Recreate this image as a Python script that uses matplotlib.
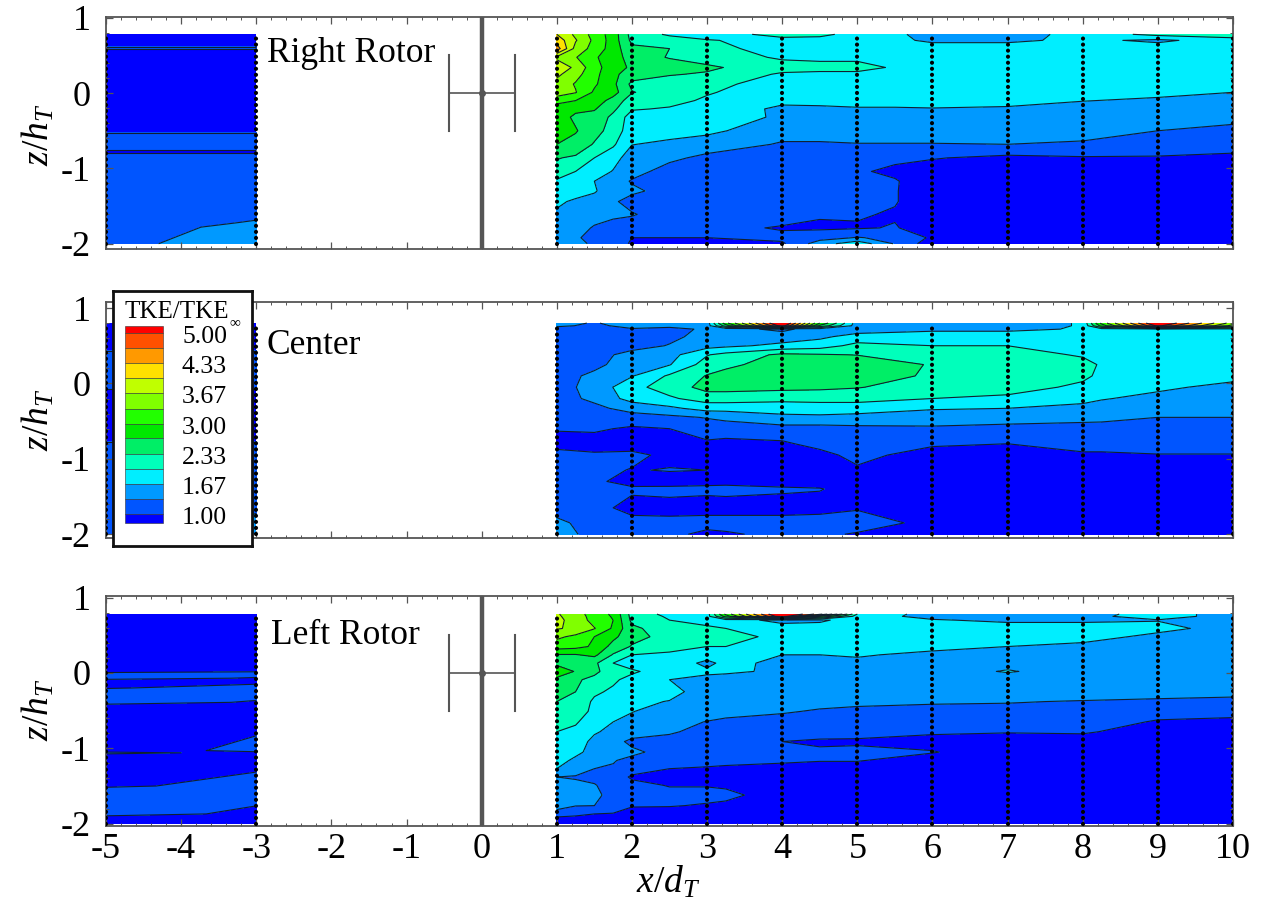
import numpy as np
import matplotlib
matplotlib.use("Agg")
import matplotlib.pyplot as plt
from matplotlib.ticker import MultipleLocator
from matplotlib.patches import Rectangle

plt.rcParams['font.family'] = ['Liberation Serif', 'DejaVu Sans']
plt.rcParams['mathtext.fontset'] = 'custom'
plt.rcParams['mathtext.rm'] = 'Liberation Serif'
plt.rcParams['mathtext.it'] = 'Liberation Serif:italic'
plt.rcParams['mathtext.bf'] = 'Liberation Serif:bold'
plt.rcParams['axes.unicode_minus'] = False

W, H = 1263, 905

levels = [1.00, 1.33, 1.67, 2.00, 2.33, 2.67, 3.00, 3.33, 3.67, 4.00, 4.33, 4.67, 5.00]
fill_levels = [0.0] + levels + [100.0]
band_colors = ['#0000ff', '#0055ff', '#0099ff', '#00eeff', '#00ffbb', '#00ee66', '#00e800',
               '#22ff00', '#80ff00', '#c0ff00', '#ffe000', '#ff9900', '#ff5000', '#ff0000']
legend_labels = ['5.00', '4.33', '3.67', '3.00', '2.33', '1.67', '1.00']
legend_label_levels = [5.00, 4.33, 3.67, 3.00, 2.33, 1.67, 1.00]

# ---- Right rotor, downstream
right_x = [1, 1.25, 1.5, 1.75, 2, 2.5, 3, 4, 4.5, 5, 5.5, 6, 7, 8, 9, 10]
right_z = [.78, .70, .59, .475, .34, .25, .12, .01, -.10, -.21, -.32, -.50, -.68, -.86, -1.04, -1.17, -1.30, -1.44, -1.61, -1.79, -1.92, -2.0]
right_v = [
 [4.0, 3.6, 3.2, 2.85, 2.2, 1.95, 1.85, 2.1, 2.1, 1.85, 1.75, 1.5, 1.5, 1.8, 2.1, 2.2],
 [4.2, 3.7, 3.25, 2.85, 2.25, 2.15, 2.02, 1.9, 1.85, 1.85, 1.75, 1.6, 1.6, 1.75, 1.6, 1.85],
 [4.5, 3.55, 3.2, 2.85, 2.4, 2.33, 2.12, 1.85, 1.85, 1.85, 1.85, 1.85, 1.85, 1.85, 1.85, 1.85],
 [3.6, 3.35, 3.05, 2.8, 2.55, 2.3, 2.2, 1.95, 1.9, 1.9, 1.85, 1.85, 1.85, 1.85, 1.85, 1.85],
 [3.9, 3.6, 3.1, 2.85, 2.6, 2.55, 2.38, 2.15, 2.15, 2.15, 1.95, 1.85, 1.85, 1.85, 1.85, 1.85],
 [3.75, 3.45, 3.1, 2.75, 2.5, 2.35, 2.3, 1.95, 1.9, 1.9, 1.85, 1.85, 1.85, 1.85, 1.85, 1.85],
 [3.55, 3.3, 3.05, 2.75, 2.25, 2.2, 2.1, 1.85, 1.85, 1.85, 1.85, 1.85, 1.85, 1.85, 1.85, 1.85],
 [3.45, 3.35, 2.95, 2.8, 2.35, 2.15, 2.03, 1.8, 1.8, 1.8, 1.8, 1.8, 1.8, 1.8, 1.75, 1.67],
 [3.2, 3.0, 2.85, 2.55, 2.15, 2.1, 1.95, 1.75, 1.75, 1.75, 1.75, 1.75, 1.72, 1.68, 1.62, 1.58],
 [2.7, 2.75, 2.7, 2.4, 2.03, 1.97, 1.9, 1.6, 1.62, 1.65, 1.65, 1.66, 1.65, 1.55, 1.5, 1.5],
 [2.85, 2.6, 2.55, 2.25, 1.85, 1.9, 1.85, 1.62, 1.5, 1.5, 1.5, 1.5, 1.5, 1.5, 1.48, 1.42],
 [2.95, 2.7, 2.45, 2.2, 1.8, 1.8, 1.75, 1.45, 1.45, 1.45, 1.45, 1.45, 1.45, 1.42, 1.33, 1.25],
 [2.67, 2.55, 2.3, 2.05, 1.68, 1.6, 1.5, 1.3, 1.3, 1.32, 1.32, 1.32, 1.33, 1.3, 1.2, 1.15],
 [2.35, 2.28, 2.0, 1.8, 1.5, 1.4, 1.25, 1.15, 1.12, 1.1, 1.05, 1.02, 0.92, 0.97, 0.97, 0.92],
 [2.2, 2.0, 1.85, 1.65, 1.45, 1.2, 1.15, 1.1, 1.05, 1.03, 0.95, 0.85, 0.85, 0.85, 0.85, 0.85],
 [1.95, 1.85, 1.67, 1.5, 1.3, 1.2, 1.15, 1.08, 1.1, 1.08, 1.02, 0.85, 0.8, 0.8, 0.8, 0.8],
 [1.95, 1.85, 1.7, 1.5, 1.4, 1.2, 1.15, 1.05, 1.05, 1.05, 1.02, 0.8, 0.8, 0.8, 0.8, 0.8],
 [1.75, 1.6, 1.55, 1.38, 1.2, 1.15, 1.15, 1.1, 1.1, 1.05, 1.02, 0.8, 0.8, 0.8, 0.8, 0.8],
 [1.6, 1.5, 1.45, 1.4, 1.36, 1.15, 1.15, 1.15, 1.03, 1.03, 0.97, 0.8, 0.8, 0.8, 0.8, 0.8],
 [1.45, 1.45, 1.3, 1.2, 1.15, 1.15, 1.1, 0.97, 0.95, 0.97, 1.02, 0.85, 0.8, 0.8, 0.8, 0.8],
 [1.4, 1.35, 1.28, 1.2, 1.0, 1.0, 1.0, 1.08, 1.2, 1.35, 1.25, 0.95, 0.8, 0.8, 0.8, 0.8],
 [1.4, 1.38, 1.3, 1.2, 0.95, 0.9, 0.9, 0.95, 1.5, 1.9, 1.3, 0.8, 0.8, 0.8, 0.8, 0.8],
]
# ---- Right rotor, upstream
right_up_x = [-5, -4.3, -3]
right_up_z = [.78, .63, .60, .57, -.50, -.55, -.73, -.78, -.83, -1.6, -1.72, -1.78, -2.0]
right_up_v = [
 [0.8, 0.8, 0.8], [0.9, 0.9, 0.9], [1.1, 1.1, 1.1], [0.9, 0.9, 0.9], [0.9, 0.9, 0.9],
 [1.1, 1.1, 1.1], [1.1, 1.1, 1.1], [0.9, 0.9, 0.9], [1.15, 1.15, 1.15], [1.2, 1.2, 1.25],
 [1.2, 1.2, 1.36], [1.2, 1.2, 1.5], [1.1, 1.33, 1.5],
]

# ---- Center, downstream
center_x = [1, 1.5, 2, 2.5, 3, 3.25, 4, 4.5, 5, 6, 7, 8, 8.25, 9, 10]
center_z = [.80, .765, .72, .62, .50, .38, .25, .10, -.05, -.20, -.33, -.45, -.60, -.80, -.95, -1.15, -1.30, -1.40, -1.65, -1.85, -2.0]
center_v = [
 [1.45, 1.3, 1.5, 1.5, 1.5, 2.9, 5.6, 3.0, 1.5, 1.5, 1.5, 1.7, 3.1, 5.5, 3.5],
 [1.4, 1.25, 1.45, 1.45, 1.5, 2.5, 5.2, 2.6, 1.5, 1.5, 1.5, 1.7, 2.8, 5.1, 3.2],
 [1.15, 1.15, 1.3, 1.2, 1.4, 1.45, 1.25, 1.5, 1.5, 1.6, 1.6, 1.7, 1.85, 1.85, 1.9],
 [1.1, 1.15, 1.2, 1.25, 1.45, 1.45, 1.5, 1.6, 1.8, 1.85, 1.85, 1.85, 1.85, 1.85, 1.85],
 [1.1, 1.1, 1.2, 1.35, 1.55, 1.6, 1.75, 1.85, 2.1, 2.0, 2.0, 1.85, 1.85, 1.85, 1.85],
 [1.1, 1.2, 1.45, 1.55, 1.98, 2.1, 2.4, 2.36, 2.32, 2.2, 2.2, 1.95, 1.9, 1.85, 1.85],
 [1.15, 1.25, 1.5, 1.65, 2.15, 2.25, 2.5, 2.55, 2.55, 2.3, 2.2, 2.15, 1.95, 1.85, 1.85],
 [1.2, 1.4, 1.65, 2.05, 2.35, 2.45, 2.6, 2.6, 2.6, 2.25, 2.2, 2.05, 1.95, 1.85, 1.8],
 [1.2, 1.45, 1.9, 2.15, 2.45, 2.45, 2.42, 2.4, 2.35, 2.15, 2.1, 1.95, 1.9, 1.75, 1.55],
 [1.2, 1.4, 1.8, 1.95, 2.15, 2.15, 2.1, 2.1, 2.1, 2.0, 1.95, 1.8, 1.7, 1.55, 1.5],
 [1.2, 1.25, 1.45, 1.6, 1.8, 1.8, 1.8, 1.85, 1.85, 1.7, 1.67, 1.55, 1.5, 1.45, 1.42],
 [1.15, 1.15, 1.2, 1.25, 1.35, 1.4, 1.6, 1.6, 1.55, 1.5, 1.45, 1.42, 1.42, 1.33, 1.33],
 [1.02, 1.05, 0.95, 1.0, 1.15, 1.18, 1.2, 1.2, 1.25, 1.28, 1.25, 1.22, 1.2, 1.2, 1.2],
 [0.9, 0.85, 0.8, 0.9, 0.95, 0.9, 0.95, 1.1, 1.15, 1.05, 1.0, 1.05, 1.05, 1.1, 1.1],
 [1.1, 1.05, 1.1, 0.9, 0.9, 0.85, 0.85, 0.9, 1.1, 0.85, 0.85, 0.98, 0.98, 0.99, 0.99],
 [1.2, 1.1, 0.98, 1.02, 1.0, 1.0, 0.95, 1.0, 0.95, 0.85, 0.8, 0.8, 0.8, 0.8, 0.8],
 [1.25, 1.05, 0.9, 0.85, 0.9, 0.9, 0.85, 0.85, 0.85, 0.8, 0.8, 0.8, 0.8, 0.8, 0.8],
 [1.2, 1.1, 1.05, 1.08, 1.08, 1.1, 1.05, 1.02, 0.85, 0.8, 0.8, 0.8, 0.8, 0.8, 0.8],
 [1.2, 1.1, 0.9, 0.9, 0.85, 0.85, 0.85, 0.85, 0.95, 0.8, 0.8, 0.8, 0.8, 0.8, 0.8],
 [1.4, 1.2, 1.1, 1.08, 1.15, 1.15, 1.15, 1.2, 1.25, 0.85, 0.8, 0.8, 0.8, 0.8, 0.8],
 [1.5, 1.2, 1.1, 1.1, 0.9, 0.95, 1.1, 1.1, 0.95, 0.8, 0.8, 0.8, 0.8, 0.8, 0.8],
]
# ---- Center, upstream
center_up_x = [-5, -3]
center_up_z = [.80, .45, .42, -.05, -.10, -.75, -.80, -2.0]
center_up_v = [[0.8, 0.8], [0.9, 0.9], [1.1, 1.1], [1.1, 1.1], [0.9, 0.9], [0.9, 0.9], [1.1, 1.1], [1.2, 1.4]]

# ---- Left rotor, downstream
left_x = [1, 1.25, 1.5, 1.75, 2, 2.5, 3, 3.25, 4, 4.5, 5, 6, 7, 8, 9, 10]
left_z = [.78, .75, .70, .59, .48, .35, .24, .13, .02, -.09, -.25, -.38, -.51, -.65, -.78, -.91, -1.05, -1.16, -1.27, -1.38, -1.49, -1.62, -1.76, -1.87, -1.91, -2.0]
left_v = [
 [3.7, 3.5, 3.15, 2.95, 2.2, 1.9, 1.85, 3.1, 5.6, 4.5, 2.0, 1.5, 1.5, 1.5, 1.85, 1.5],
 [3.72, 3.52, 3.18, 2.97, 2.22, 1.95, 1.87, 2.8, 5.3, 3.0, 1.85, 1.55, 1.55, 1.55, 1.85, 1.5],
 [3.75, 3.55, 3.2, 3.0, 2.25, 2.0, 1.9, 1.85, 1.55, 1.6, 1.85, 1.7, 1.6, 1.6, 1.65, 1.5],
 [3.7, 3.6, 3.35, 2.95, 2.4, 2.15, 2.05, 2.0, 1.85, 1.85, 1.85, 1.85, 1.85, 1.85, 1.8, 1.5],
 [3.4, 3.25, 3.0, 2.75, 2.45, 2.2, 2.1, 2.2, 1.85, 1.85, 1.85, 1.85, 1.85, 1.85, 1.55, 1.5],
 [3.15, 3.1, 2.95, 2.55, 2.3, 2.1, 2.0, 2.0, 1.8, 1.8, 1.8, 1.75, 1.67, 1.55, 1.5, 1.5],
 [2.65, 2.65, 2.75, 2.3, 2.0, 1.95, 1.8, 1.85, 1.67, 1.67, 1.7, 1.6, 1.6, 1.5, 1.5, 1.5],
 [2.6, 2.45, 2.4, 2.0, 1.85, 1.85, 1.6, 1.75, 1.6, 1.6, 1.6, 1.55, 1.55, 1.5, 1.5, 1.5],
 [2.85, 2.65, 2.45, 2.05, 2.05, 1.82, 1.72, 1.72, 1.62, 1.5, 1.5, 1.5, 1.7, 1.5, 1.5, 1.5],
 [2.6, 2.4, 2.2, 2.05, 1.9, 1.67, 1.6, 1.55, 1.5, 1.5, 1.5, 1.5, 1.5, 1.5, 1.5, 1.45],
 [2.45, 2.33, 2.05, 1.95, 1.8, 1.75, 1.55, 1.5, 1.5, 1.5, 1.5, 1.5, 1.5, 1.5, 1.45, 1.4],
 [2.33, 2.2, 1.95, 1.9, 1.72, 1.66, 1.5, 1.48, 1.42, 1.42, 1.38, 1.36, 1.35, 1.31, 1.28, 1.27],
 [2.2, 2.1, 1.95, 1.8, 1.68, 1.55, 1.45, 1.38, 1.36, 1.3, 1.28, 1.25, 1.23, 1.2, 1.12, 1.1],
 [2.05, 2.05, 1.75, 1.67, 1.6, 1.42, 1.32, 1.3, 1.22, 1.2, 1.2, 1.18, 1.15, 1.15, 0.97, 0.93],
 [2.0, 1.9, 1.7, 1.6, 1.5, 1.36, 1.25, 1.22, 1.15, 1.15, 1.12, 1.05, 1.02, 1.04, 0.85, 0.85],
 [1.9, 1.8, 1.6, 1.45, 1.25, 1.25, 1.2, 1.2, 1.0, 0.95, 0.95, 0.88, 0.85, 0.85, 0.8, 0.8],
 [1.85, 1.75, 1.55, 1.4, 1.4, 1.2, 1.15, 1.13, 1.12, 1.05, 1.08, 1.02, 0.8, 0.8, 0.8, 0.8],
 [1.8, 1.6, 1.5, 1.35, 1.25, 1.15, 1.1, 1.08, 1.05, 1.02, 1.02, 0.85, 0.8, 0.8, 0.8, 0.8],
 [1.67, 1.5, 1.33, 1.3, 1.15, 1.0, 0.97, 0.95, 0.9, 0.85, 0.85, 0.8, 0.8, 0.8, 0.8, 0.8],
 [1.33, 1.3, 1.25, 1.2, 0.95, 0.9, 0.9, 0.87, 0.85, 0.8, 0.8, 0.8, 0.8, 0.8, 0.8, 0.8],
 [1.45, 1.4, 1.35, 1.2, 1.1, 0.98, 0.98, 0.97, 0.85, 0.8, 0.8, 0.8, 0.8, 0.8, 0.8, 0.8],
 [1.5, 1.55, 1.42, 1.2, 1.15, 1.1, 1.1, 1.05, 0.9, 0.8, 0.8, 0.8, 0.8, 0.8, 0.8, 0.8],
 [1.45, 1.34, 1.33, 1.2, 1.02, 1.02, 0.97, 0.96, 0.85, 0.8, 0.8, 0.8, 0.8, 0.8, 0.8, 0.8],
 [1.2, 1.1, 1.0, 0.98, 0.9, 0.85, 0.85, 0.85, 0.8, 0.8, 0.8, 0.8, 0.8, 0.8, 0.8, 0.8],
 [1.0, 0.95, 0.9, 0.9, 0.85, 0.85, 0.85, 0.85, 0.8, 0.8, 0.8, 0.8, 0.8, 0.8, 0.8, 0.8],
 [0.85, 0.85, 0.85, 0.85, 0.8, 0.8, 0.8, 0.8, 0.8, 0.8, 0.8, 0.8, 0.8, 0.8, 0.8, 0.8],
]
# ---- Left rotor, upstream
left_up_x = [-5, -3]
left_up_z = [.78, .02, -.01, -.07, -.10, -.20, -.24, -.39, -.44, -1.03, -1.06, -1.10, -1.13, -1.50, -1.55, -1.87, -1.92, -2.0]
left_up_v = [[0.8, 0.8], [0.9, 0.98], [1.1, 1.1], [1.1, 0.98], [0.9, 0.9], [0.98, 1.1], [1.1, 1.1], [1.1, 0.98], [0.9, 0.9],
             [0.9, 1.05], [1.05, 0.95], [0.9, 0.9], [0.9, 0.9], [0.95, 1.1], [1.1, 1.1], [1.1, 0.95], [0.9, 0.9], [0.9, 0.9]]

probe_columns = [-5, -3, 1, 2, 3, 4, 5, 6, 7, 8, 9, 10]
blade_x = [-0.44, 0.44]
blade_z = [-0.5, 0.5]
arm_x = [-0.44, 0.44]
xticks = [-5, -4, -3, -2, -1, 0, 1, 2, 3, 4, 5, 6, 7, 8, 9, 10]
yticks = [1, 0, -1, -2]

GRAY = '#555555'
fig = plt.figure(figsize=(W / 100, H / 100), dpi=100)


def px_axes(left, top, right, bottom):
    return fig.add_axes([left / W, 1 - bottom / H, (right - left) / W, (bottom - top) / H])


def panel(box, ylim, fields, top_z, turbine, label, label_xy, ylab_y, xlabels=False):
    ax = px_axes(*box)
    ax.set_xlim(-5, 10)
    ax.set_ylim(*ylim)
    for fx, fz, fv in fields:
        ax.contourf(fx, fz, np.array(fv), levels=fill_levels, colors=band_colors, zorder=1)
        ax.contour(fx, fz, np.array(fv), levels=levels, colors='#102030', linewidths=0.8, zorder=2)
    for c in probe_columns:
        ax.plot([c, c], [-2.0, top_z], color='k', lw=3.0, ls=(0, (0.01, 1.44)),
                dash_capstyle='round', zorder=4)
    if turbine:
        ax.plot([0, 0], list(ylim), color=GRAY, lw=3.2, zorder=5, solid_capstyle='butt')
        ax.plot(arm_x, [0, 0], color=GRAY, lw=1.2, zorder=5)
        for bx in blade_x:
            ax.plot([bx, bx], blade_z, color=GRAY, lw=1.5, zorder=5)
        ax.plot([0], [0], 'o', color=GRAY, ms=4, zorder=5)
    ax.set_xticks(xticks)
    ax.set_yticks(yticks)
    ax.xaxis.set_minor_locator(MultipleLocator(0.2))
    ax.yaxis.set_minor_locator(MultipleLocator(0.2))
    ax.tick_params(which='major', direction='in', top=True, right=True, length=5, width=0.9, color=GRAY,
                   labelsize=26)
    ax.tick_params(which='minor', direction='in', top=True, right=True, length=2.5, width=0.7, color=GRAY)
    ax.tick_params(axis='y', pad=11)
    ax.tick_params(axis='x', pad=5, labelbottom=xlabels)
    for s in ax.spines.values():
        s.set_color(GRAY)
        s.set_linewidth(1.3)
    fig.text(label_xy[0] / W, 1 - label_xy[1] / H, label, fontsize=25.5, va='center', ha='left')
    fig.text(38 / W, 1 - ylab_y / H, r'$z/h_T$', fontsize=27, rotation=90, va='center', ha='center')
    return ax


panel((106, 17, 1233, 249), (-2.07, 1.01), [(right_up_x, right_up_z, right_up_v), (right_x, right_z, right_v)],
      0.78, True, 'Right Rotor', (267, 54), 135)
panel((106, 302, 1233, 538), (-2.05, 1.08), [(center_up_x, center_up_z, center_up_v), (center_x, center_z, center_v)],
      0.80, False, 'Center', (267, 345), 420)
panel((106, 596, 1233, 826), (-2.03, 1.02), [(left_up_x, left_up_z, left_up_v), (left_x, left_z, left_v)],
      0.78, True, 'Left Rotor', (271, 635), 710, xlabels=True)
fig.text(668 / W, 1 - 882 / H, r'$x/d_T$', fontsize=27, va='center', ha='center')

# legend
lg = px_axes(113, 291, 252, 546)
lg.set_zorder(10)
lg.set_xlim(113, 252)
lg.set_ylim(546, 291)
lg.set_xticks([])
lg.set_yticks([])
for s in lg.spines.values():
    s.set_linewidth(2.0)
    s.set_color('#111111')
level_y = {v: 333 + (5.00 - v) / (5.00 - 1.00) * 181 for v in levels}
edges = [333 - 7.5] + [level_y[v] for v in reversed(levels)] + [514 + 8.5]
for i, col in enumerate(reversed(band_colors)):
    lg.add_patch(Rectangle((125, edges[i]), 38, edges[i + 1] - edges[i], facecolor=col,
                           edgecolor='#333333', linewidth=0.4))
for lab, v in zip(legend_labels, legend_label_levels):
    lg.text(182, level_y[v] + 4, lab, fontsize=18.5, va='center', ha='left')
lg.text(125, 312, 'TKE/TKE', fontsize=18, va='center', ha='left')
lg.text(235, 323, '\u221e', fontsize=11, va='center', ha='center')

fig.savefig('out.png', dpi=100)
